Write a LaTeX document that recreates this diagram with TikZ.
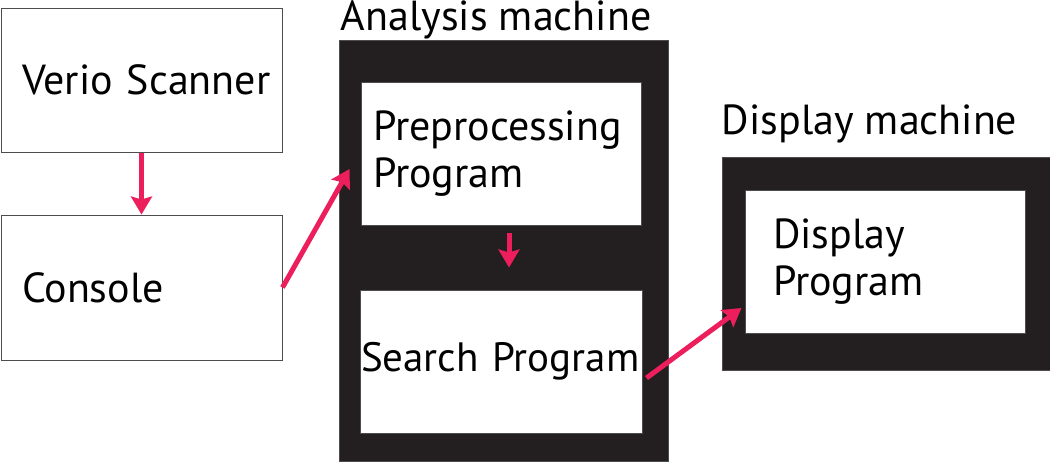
\documentclass[tikz,border=0pt]{standalone}
\usepackage{fontspec}
\setmainfont{PT Sans}
\usepackage{tikz}
\usetikzlibrary{arrows.meta}
\usetikzlibrary{positioning}
\definecolor{mpink}{RGB}{236, 30, 92}
\definecolor{mdark}{RGB}{35, 31, 32}
\tikzset{flow/.style = {draw=mpink, line width=2.5pt,
                        -{Stealth[length=9pt, width=10.5pt, inset=1.5pt]}}}
\tikzset{box/.style = {draw=mdark!80, line width=0.5pt, fill=white,
                       minimum height=71.5pt, align=left, inner ysep=0pt,
                       font=\fontsize{21}{23.5}\selectfont}}
\tikzset{machine/.style = {fill=mdark, draw=mdark!80, line width=0.5pt}}
\tikzset{title/.style = {anchor=base west, inner sep=0pt,
                         font=\fontsize{21}{23.5}\selectfont}}

\begin{document}
\begin{tikzpicture}[x=0.5pt, y=-0.5pt]
      \useasboundingbox (0, 0) rectangle (1050, 461);
      \node (verio) [box, text width=119.5pt, inner xsep=10.5pt, minimum height=72pt]
            at (141.5, 80) {\mbox{Verio Scanner}};
      \node (console) [box, text width=119.5pt, inner xsep=10.5pt, minimum height=72.5pt]
            at (141.5, 287.5) {Console};
      \node (analysis) [machine, minimum width=164.5pt, minimum height=210.5pt]
            at (503.5, 250.5) {};
      \node (analysistitle) [title] at ([xshift=1pt, yshift=4.5pt]analysis.north west)
            {Analysis machine};
      \node (pre) [box, text width=128pt, inner xsep=6pt] at (501, 153.5)
            {\mbox{Preprocessing}\\Program};
      \node (search) [box, text width=140pt, inner xsep=0.5pt,
                      font=\fontsize{20.5}{23.5}\selectfont] at (501, 361.5)
            {\mbox{Search Program}};
      \node (displaymachine) [machine, minimum width=164pt, minimum height=106.5pt]
            at (886, 263.5) {};
      \node (displaytitle) [title] at ([yshift=11pt]displaymachine.north west)
            {Display machine};
      \node (disp) [box, text width=112pt, inner xsep=14pt] at (885, 261.5)
            {Display\\Program};
      \coordinate (preIn) at ([xshift=-5.5pt, yshift=-7.75pt]pre.west);
      \coordinate (dispIn) at ([xshift=-1.5pt, yshift=-23.25pt]disp.west);
      \draw [flow] (verio) -- (console);
      \draw [flow] (console.east) -- (preIn);
      \draw [flow] ([xshift=4pt, yshift=-3.5pt]pre.south) -- ([xshift=4pt, yshift=11pt]search.north);
      \draw [flow] ([xshift=2pt, yshift=-8.25pt]search.east) -- (dispIn);
    \end{tikzpicture}
\end{document}
